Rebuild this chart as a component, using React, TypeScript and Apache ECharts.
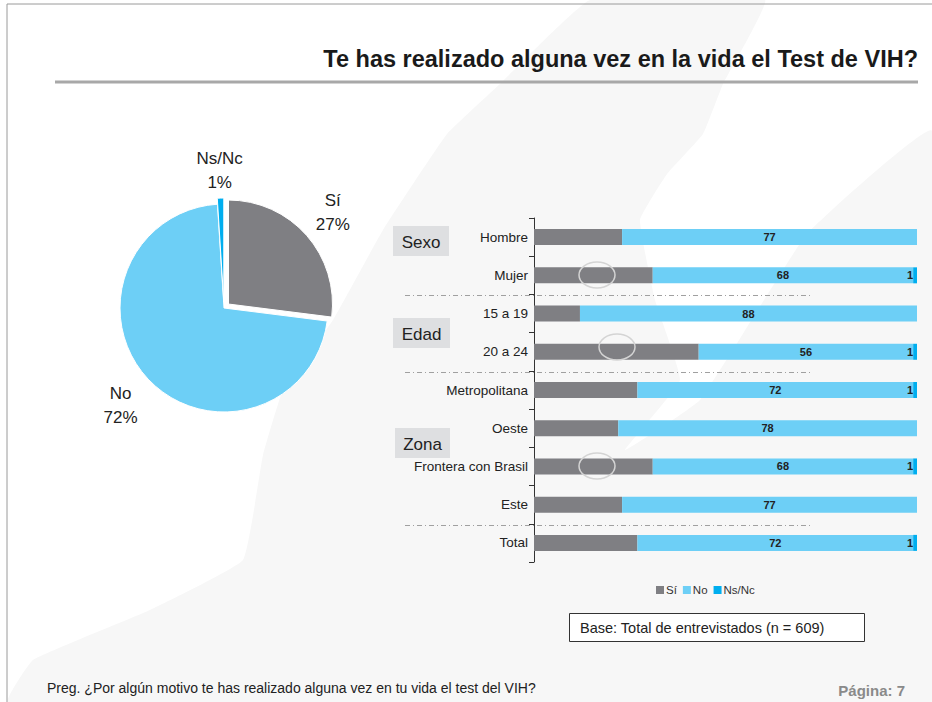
import React, { useEffect, useRef } from 'react';
import * as echarts from 'echarts';

const categories = ['Hombre', 'Mujer', '15 a 19', '20 a 24', 'Metropolitana', 'Oeste', 'Frontera con Brasil', 'Este', 'Total'];
const siValues = [23, 31, 12, 43, 27, 22, 31, 23, 27];
const noValues = [77, 68, 88, 56, 72, 78, 68, 77, 72];
const nsncValues = [0, 1, 0, 1, 1, 0, 1, 0, 1];
const seriesNames = ['Sí', 'No', 'Ns/Nc'];
const pieValues = [27, 72, 1];
const groupLabels = ['Sexo', 'Edad', 'Zona'];

const COLORS = ['#7f7f83', '#6dcff6', '#00aeef'];
const FONT = '"Liberation Sans", Arial, sans-serif';

export default function App() {
  const ref = useRef<HTMLDivElement>(null);
  useEffect(() => {
    if (!ref.current) return;
    const chart = echarts.init(ref.current, null, { renderer: 'svg' });

    const gridTop = 218;
    const gridH = 344;
    const step = gridH / categories.length;
    const pieC = [224, 308];
    const labelR = [139, 142, 132];
    const total = pieValues.reduce((a, b) => a + b, 0);
    const cum: number[] = [];
    let acc = 0;
    pieValues.forEach((v) => { cum.push(acc + v / 2); acc += v; });

    const sepY = [2, 4, 8].map((k) => Math.round(gridTop + k * step) + 1.5);
    const groupBoxes = [
      { x: 393, y: 226, w: 56 },
      { x: 393, y: 318, w: 57 },
      { x: 395, y: 428, w: 55 },
    ];
    const ellipses = [
      { cx: 597, cy: 275 },
      { cx: 617, cy: 347 },
      { cx: 597, cy: 466 },
    ];

    const graphic: any[] = [
      // background
      { type: 'rect', z: -20, silent: true, shape: { x: 0, y: 0, width: 932, height: 702 }, style: { fill: '#ffffff' } },
      {
        type: 'polygon', z: -19, silent: true,
        shape: {
          points: [[590, 0], [765, 0], [723, 84], [703, 134], [667, 174], [640, 220], [655, 300], [680, 380], [625, 450], [700, 400], [807, 234], [932, 131], [932, 702], [8, 702], [33, 660], [150, 610], [243, 560], [263, 455], [283, 390], [333, 320], [383, 230], [447, 134], [500, 84]],
          smooth: 0.1,
        },
        style: { fill: '#f7f7f7' },
      },
      // border
      { type: 'line', shape: { x1: 7, y1: 4, x2: 932, y2: 4 }, style: { stroke: '#9a9a9a', lineWidth: 1 } },
      { type: 'line', shape: { x1: 7, y1: 4, x2: 7, y2: 702 }, style: { stroke: '#9a9a9a', lineWidth: 1 } },
      // title
      { type: 'text', style: { text: 'Te has realizado alguna vez en la vida el Test de VIH?', x: 918, y: 59, textAlign: 'right', textVerticalAlign: 'middle', fill: '#1a1a1a', fontSize: 23.5, fontWeight: 'bold', fontFamily: FONT } },
      { type: 'line', shape: { x1: 55, y1: 82, x2: 918, y2: 82 }, style: { stroke: '#a8a8a8', lineWidth: 3 } },
      // separators
      ...sepY.map((y) => ({ type: 'line', shape: { x1: 405, y1: y, x2: 812, y2: y }, style: { stroke: '#a0a0a0', lineWidth: 1, lineDash: [5, 3, 1, 3] } })),
      // group boxes
      ...groupBoxes.map((b, i) => ({
        type: 'group',
        children: [
          { type: 'rect', shape: { x: b.x, y: b.y, width: b.w, height: 30 }, style: { fill: '#dedfe1' } },
          { type: 'text', style: { text: groupLabels[i], x: b.x + b.w / 2, y: b.y + 16, textAlign: 'center', textVerticalAlign: 'middle', fill: '#222', fontSize: 17, fontFamily: FONT } },
        ],
      })),
      // highlight ellipses
      ...ellipses.map((e) => ({ type: 'ellipse', z: 100, silent: true, shape: { cx: e.cx, cy: e.cy, rx: 18, ry: 13 }, style: { fill: 'none', stroke: '#d4d4d4', lineWidth: 1.5 } })),
      // base box
      { type: 'rect', shape: { x: 569.5, y: 613.5, width: 295, height: 28 }, style: { fill: '#ffffff', stroke: '#333', lineWidth: 1 } },
      { type: 'text', style: { text: 'Base: Total de entrevistados (n = 609)', x: 580, y: 628, textVerticalAlign: 'middle', fill: '#222', fontSize: 14.5, fontFamily: FONT } },
      // footer
      { type: 'text', style: { text: 'Preg. ¿Por algún motivo te has realizado alguna vez en tu vida el test del VIH?', x: 47, y: 688, textVerticalAlign: 'middle', fill: '#222', fontSize: 14, fontFamily: FONT } },
      { type: 'text', style: { text: 'Página: 7', x: 905, y: 690, textAlign: 'right', textVerticalAlign: 'middle', fill: '#8a8a8a', fontSize: 15, fontWeight: 'bold', fontFamily: FONT } },
    ];

    const barLabel = { fontSize: 11, fontWeight: 'bold', color: '#222', fontFamily: FONT };

    chart.setOption({
      animation: false,
      textStyle: { fontFamily: FONT },
      color: COLORS,
      legend: {
        data: seriesNames,
        left: 656,
        top: 584,
        icon: 'rect',
        itemWidth: 8,
        itemHeight: 8,
        itemGap: 6,
        padding: 0,
        selectedMode: false,
        textStyle: { fontSize: 11.5, color: '#333', padding: [0, 0, 0, -3] },
      },
      grid: { left: 534, right: 15, top: gridTop, height: gridH },
      xAxis: { type: 'value', min: 0, max: 100, show: false },
      yAxis: {
        type: 'category',
        data: categories,
        inverse: true,
        axisLine: { show: true, lineStyle: { color: '#333', width: 1 } },
        axisTick: { show: true, length: 5, lineStyle: { color: '#333' } },
        axisLabel: { fontSize: 13.5, color: '#222', margin: 6 },
      },
      series: [
        {
          name: seriesNames[0], type: 'bar', stack: 's', data: siValues, barWidth: 16,
          itemStyle: { color: COLORS[0] }, emphasis: { disabled: true },
        },
        {
          name: seriesNames[1], type: 'bar', stack: 's', data: noValues, barWidth: 16,
          itemStyle: { color: COLORS[1] }, emphasis: { disabled: true },
          label: { show: true, position: 'inside', ...barLabel },
        },
        {
          name: seriesNames[2], type: 'bar', stack: 's', data: nsncValues, barWidth: 16,
          itemStyle: { color: COLORS[2] }, emphasis: { disabled: true },
          label: { show: true, position: 'left', distance: 0, ...barLabel, formatter: (p: any) => (p.value ? String(p.value) : '') },
        },
        {
          type: 'pie',
          center: pieC,
          radius: 104,
          startAngle: 90,
          clockwise: true,
          selectedMode: 'multiple',
          selectedOffset: 6,
          emphasis: { disabled: true },
          itemStyle: { borderColor: '#fff', borderWidth: 1 },
          label: {
            show: true,
            position: 'outside',
            formatter: '{t|{b}}\n{t|{c}%}',
            rich: { t: { width: 70, align: 'center', fontSize: 17, lineHeight: 24, color: '#222', fontFamily: FONT } },
          },
          labelLine: { show: false },
          labelLayout: (params: any) => {
            const i = params.dataIndex;
            const ang = (cum[i] / total) * Math.PI * 2;
            const r = labelR[i];
            const tx = pieC[0] + r * Math.sin(ang);
            const ty = pieC[1] - r * Math.cos(ang);
            const rect = params.labelRect;
            return { dx: tx - (rect.x + rect.width / 2), dy: ty - (rect.y + rect.height / 2) };
          },
          data: seriesNames.map((n, i) => ({ name: n, value: pieValues[i], selected: i !== 1, itemStyle: { color: COLORS[i] } })),
        },
      ],
      graphic,
    });

    return () => chart.dispose();
  }, []);

  return <div ref={ref} style={{ position: 'absolute', left: 0, top: 0, width: 932, height: 702 }} />;
}
